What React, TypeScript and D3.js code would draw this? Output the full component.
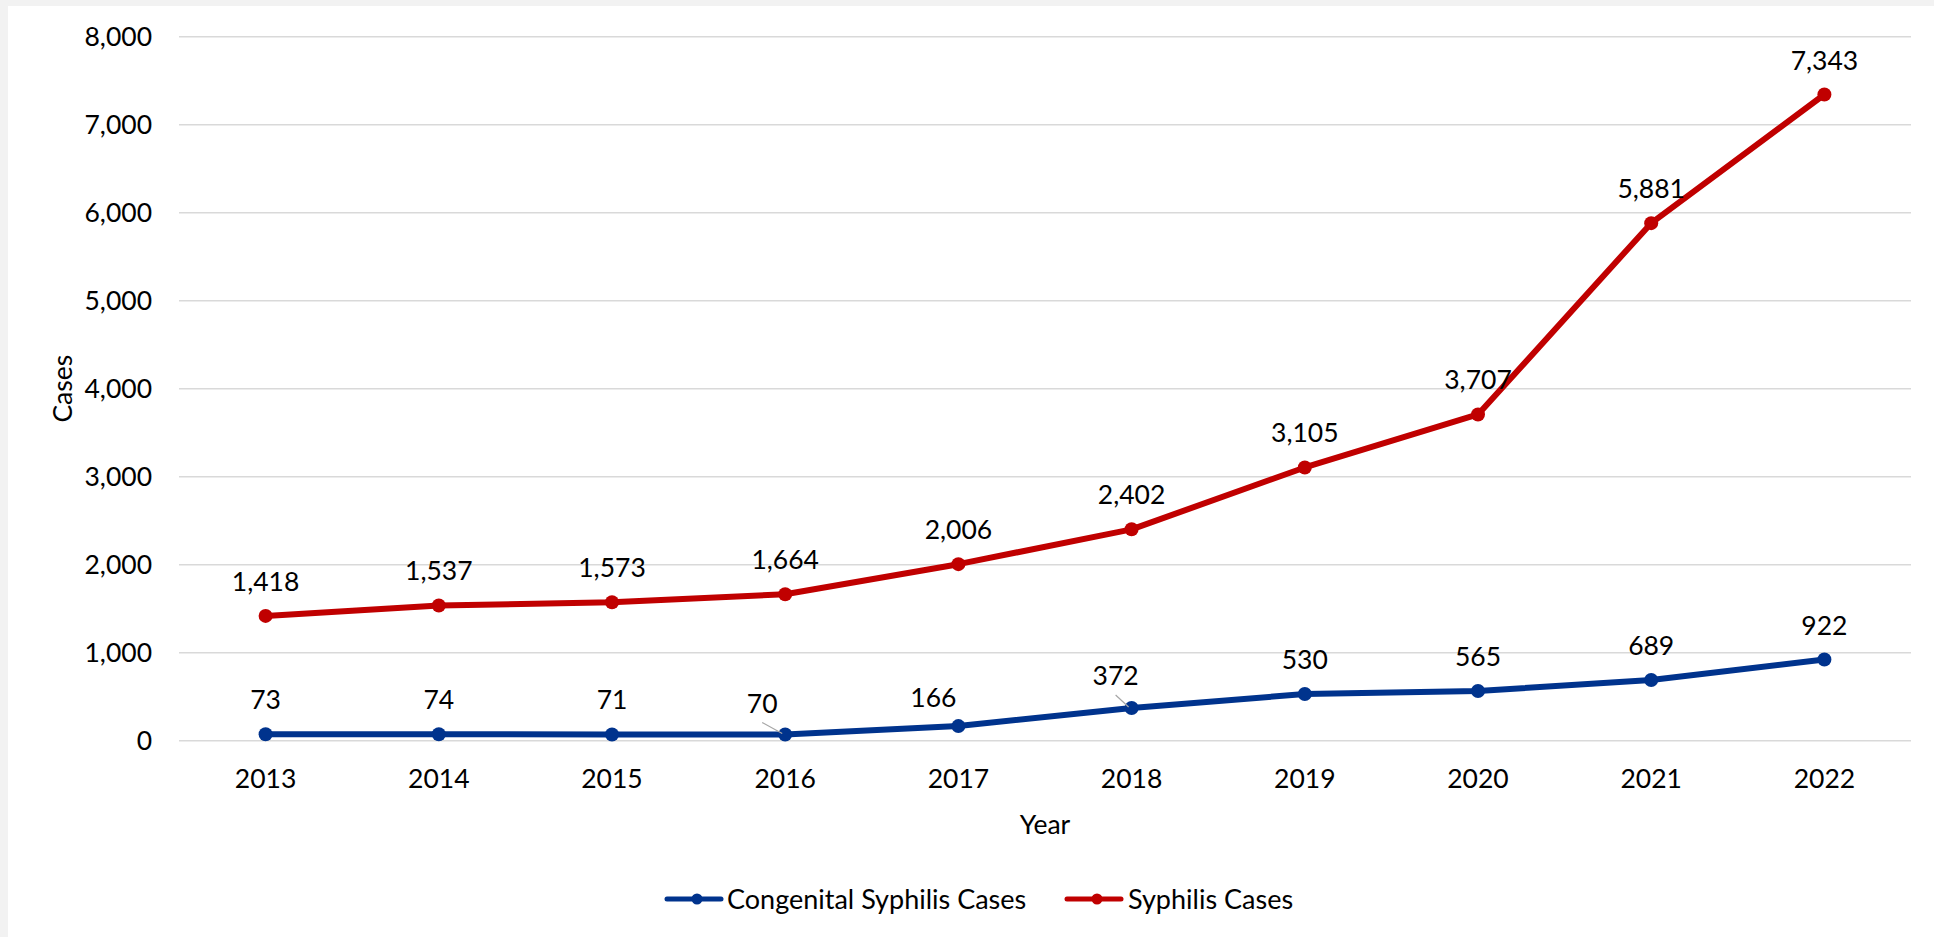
import React from "react";
import * as d3 from "d3";

const years = ["2013", "2014", "2015", "2016", "2017", "2018", "2019", "2020", "2021", "2022"];
const congenitalCases = [73, 74, 71, 70, 166, 372, 530, 565, 689, 922];
const syphilisCases = [1418, 1537, 1573, 1664, 2006, 2402, 3105, 3707, 5881, 7343];
const yTicks = [0, 1000, 2000, 3000, 4000, 5000, 6000, 7000, 8000];

const seriesNames = ["Congenital Syphilis Cases", "Syphilis Cases"];
const seriesColors = ["#00338D", "#C00000"];

// manual label nudges (Excel-style moved labels), keyed by series index and year
const labelNudges: Record<string, { dx: number; dy: number; leader?: boolean }> = {
  "0-2016": { dx: -23, dy: -22, leader: true },
  "0-2017": { dx: -25, dy: -19.5 },
  "0-2018": { dx: -16, dy: -23, leader: true },
};

const W = 1934;
const H = 937;
const FONT = "Lato, 'Open Sans', sans-serif";
const FS = 26.5;

export default function App() {
  const x = d3.scalePoint<string>().domain(years).range([179, 1911]).padding(0.5);
  const y = d3.scaleLinear().domain([0, 8000]).range([740.7, 36.7]);
  const fmt = d3.format(",");
  const line = d3
    .line<number>()
    .x((_, i) => x(years[i]) as number)
    .y((d) => y(d));

  const series = [congenitalCases, syphilisCases];

  return (
    <svg
      width={W}
      height={H}
      style={{ position: "absolute", left: 0, top: 0, display: "block" }}
      fontFamily={FONT}
    >
      <rect x={0} y={0} width={W} height={H} fill="#F2F2F2" />
      <rect x={8} y={6} width={W - 8} height={H - 6} fill="#FFFFFF" />

      {yTicks.map((t) => (
        <g key={t}>
          <line x1={179} x2={1911} y1={y(t)} y2={y(t)} stroke="#D9D9D9" strokeWidth={1.4} />
          <text x={152} y={y(t)} dy="0.36em" textAnchor="end" fontSize={FS} fill="#000">
            {fmt(t)}
          </text>
        </g>
      ))}

      {years.map((yr) => (
        <text key={yr} x={x(yr)} y={788} textAnchor="middle" fontSize={FS} fill="#000">
          {yr}
        </text>
      ))}

      <text x={1045} y={834} textAnchor="middle" fontSize={FS} fill="#000">
        Year
      </text>
      <text
        transform={`translate(71.5, ${(y(0) + y(8000)) / 2}) rotate(-90)`}
        textAnchor="middle"
        fontSize={FS}
        fill="#000"
      >
        Cases
      </text>

      {series.map((vals, si) => (
        <g key={si}>
          <path d={line(vals) || ""} fill="none" stroke={seriesColors[si]} strokeWidth={6} strokeLinejoin="round" />
          {vals.map((v, i) => (
            <circle key={i} cx={x(years[i])} cy={y(v)} r={7} fill={seriesColors[si]} />
          ))}
        </g>
      ))}

      {series.map((vals, si) =>
        vals.map((v, i) => {
          const px = x(years[i]) as number;
          const py = y(v);
          const n = labelNudges[`${si}-${years[i]}`];
          const dx = n ? n.dx : 0;
          const dy = n ? n.dy : -25;
          return (
            <g key={`${si}-${i}`}>
              {n && n.leader ? (
                <line
                  x1={px + dx}
                  y1={py + dy + 10}
                  x2={px - 3}
                  y2={py - 1}
                  stroke="#A6A6A6"
                  strokeWidth={1.2}
                />
              ) : null}
              <text x={px + dx} y={py + dy} textAnchor="middle" fontSize={FS} fill="#000">
                {fmt(v)}
              </text>
            </g>
          );
        })
      )}

      {/* legend */}
      {[
        { lx: 667, tx: 727 },
        { lx: 1067, tx: 1128 },
      ].map((p, si) => (
        <g key={si}>
          <line x1={p.lx} x2={p.lx + 54} y1={899} y2={899} stroke={seriesColors[si]} strokeWidth={5} strokeLinecap="round" />
          <circle cx={p.lx + 30} cy={899} r={5.5} fill={seriesColors[si]} />
          <text x={p.tx} y={909} fontSize={27} fill="#000">
            {seriesNames[si]}
          </text>
        </g>
      ))}
    </svg>
  );
}
